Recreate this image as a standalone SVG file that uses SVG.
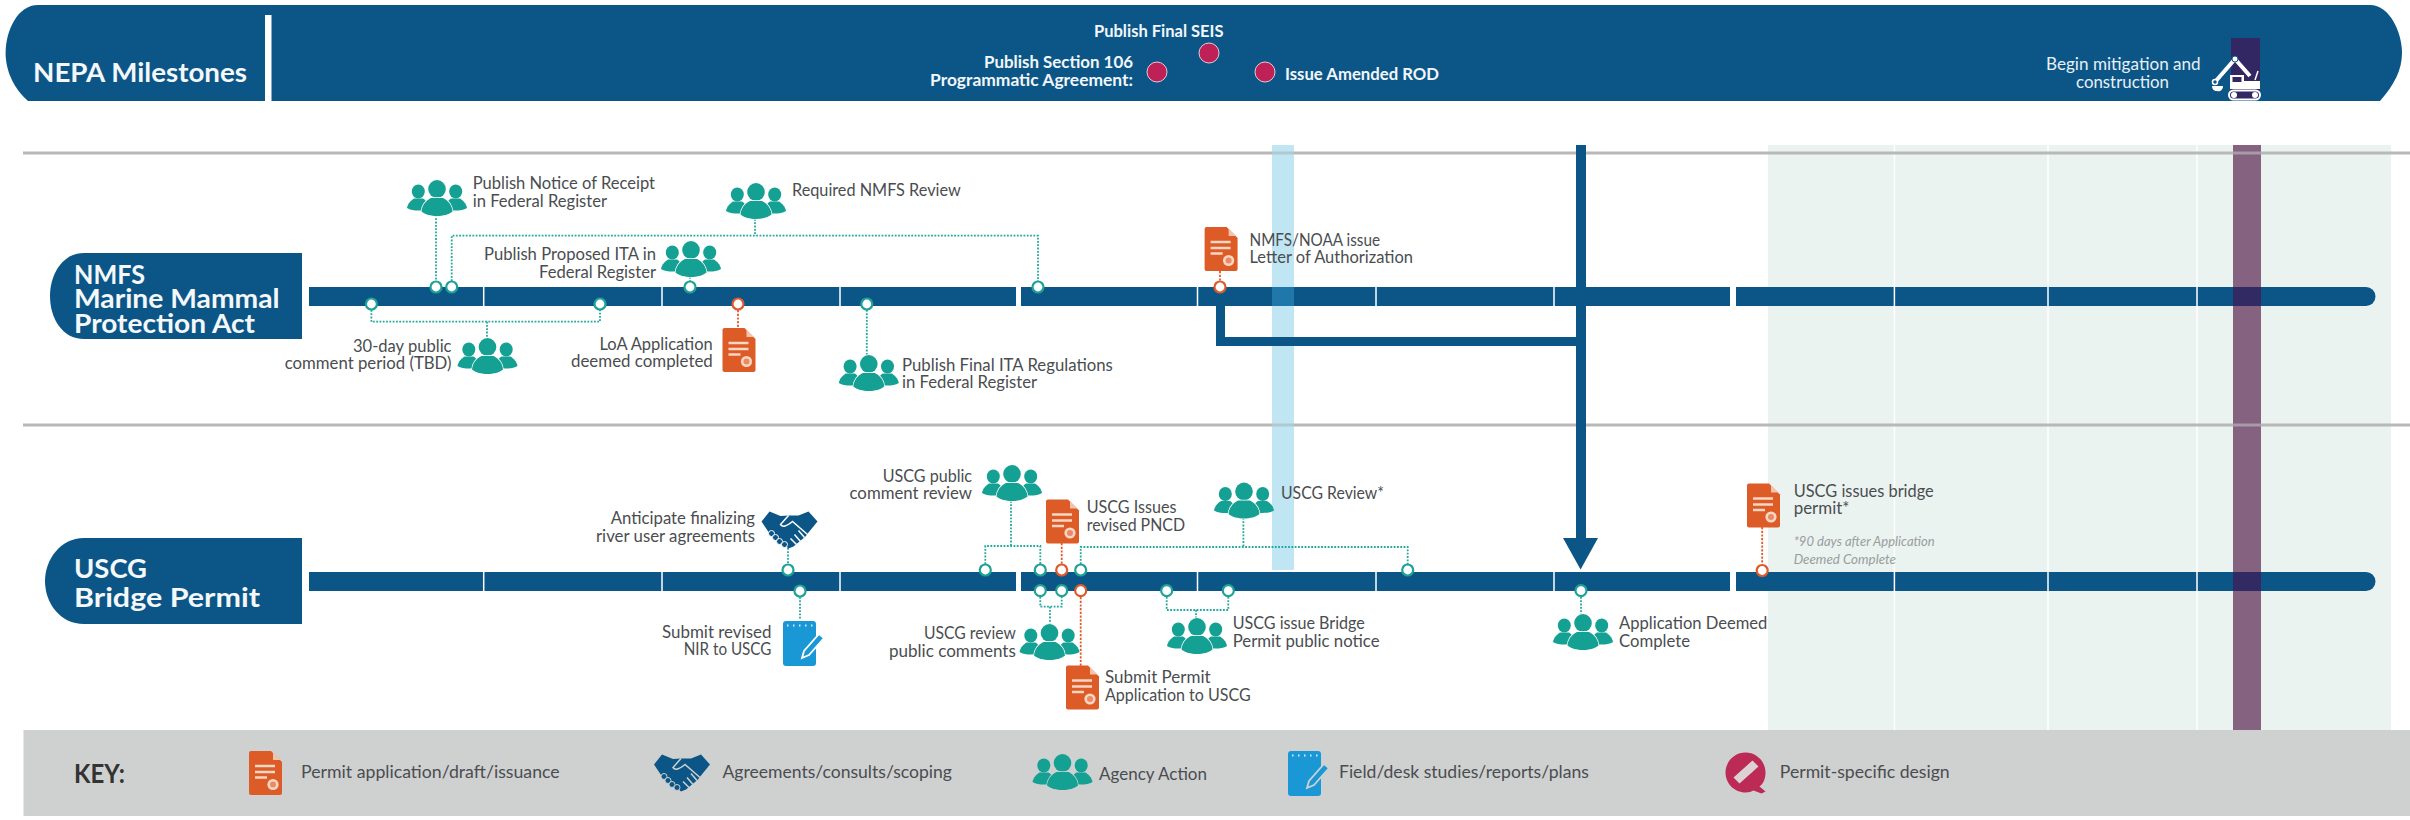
<svg xmlns="http://www.w3.org/2000/svg" width="2410" height="820" viewBox="0 0 2410 820" color="#fff">
<style>
text{font-family:"Lato","Noto Sans","Liberation Sans",sans-serif}
.t{font-size:17.500px;fill:#4a4d50}
.w{font-size:17.500px;fill:#f2f7fa;font-weight:700}
.wr{font-size:17.500px;fill:#e6f0f6}
.h{font-size:27px;fill:#f4f8fb;font-weight:700}
.n{font-size:13.500px;fill:#9a9d9d;font-style:italic}
.k{font-size:27px;fill:#333;font-weight:700}
.bar{fill:#0c5687}
.div{stroke:#fff;stroke-width:1.500;fill:none}
.dt{fill:none;stroke:#22a99d;stroke-width:1.800;stroke-dasharray:1.800 1.500}
.do{fill:none;stroke:#df5a2a;stroke-width:1.800;stroke-dasharray:2.200 1.500}
.nt{fill:#fff;stroke:#1ea295;stroke-width:2.200}
.no{fill:#fff;stroke:#df5a2a;stroke-width:2.200}
.cr{fill:#bd2155;stroke:#e9c6d4;stroke-width:1}
.thick{fill:#0c5687}
</style>
<defs>
<symbol id="people" width="60" height="36" viewBox="0 0 60 36" overflow="visible">
<g fill="#14a093">
<ellipse cx="11.300" cy="11.500" rx="6.500" ry="7"/>
<path d="M0,28C1,23 4,20.500 7,18.500L16,18.500C19,20.500 22,24 22,30L12,30.500C7,30.500 3,30 0,28Z"/>
<ellipse cx="48.700" cy="11.500" rx="6.500" ry="7"/>
<path d="M60,28C59,23 56,20.500 53,18.500L44,18.500C41,20.500 38,24 38,30L48,30.500C53,30.500 57,30 60,28Z"/>
<g stroke="currentColor" stroke-width="1.400" paint-order="stroke">
<ellipse cx="30" cy="9" rx="8.800" ry="9"/>
<path d="M14.500,31.500C15,25 19,20.500 24,18L36,18C41,20.500 45,25 45.500,31.500C42,34.500 36,36 30,36C24,36 18,34.500 14.500,31.500Z"/>
</g>
</g>
</symbol>
<symbol id="doc" width="33" height="44" viewBox="0 0 33 44" overflow="visible">
<path d="M2,0L22,0L33,11L33,42A2,2 0 0 1 31,44L2,44A2,2 0 0 1 0,42L0,2A2,2 0 0 1 2,0Z" fill="#dd5b27"/>
<path d="M24,1.500L24,9L31.500,9Z" fill="#f3c3ab"/>
<path d="M6,15H26M6,21H26M6,26.500H18" stroke="#f8d6c4" stroke-width="2.400" fill="none"/>
<circle cx="24" cy="33.500" r="5.600" fill="#f8d6c4"/>
<circle cx="24" cy="33.500" r="3" fill="#e98a62"/>
</symbol>
<symbol id="shake" width="57" height="37" viewBox="0 0 57 37" overflow="visible">
<path d="M0,10L8,0L19,4.500L27,4L37,4L47,0L56,10L47,21L44,25L32,35L27,37L24,34L20,33L16,29L12,27L8,22Z" fill="#0c5687"/>
<g fill="none" stroke="currentColor" stroke-width="1.500">
<path d="M27,4L19,13C21,16 25,15 31,10L46,23"/>
<path d="M37,19L43,26M33,23L39,30M29,27L35,33"/>
</g>
<g fill="#0c5687" stroke="currentColor" stroke-width="1">
<circle cx="10" cy="22" r="3"/><circle cx="14" cy="26" r="3"/><circle cx="18" cy="30" r="3"/><circle cx="23" cy="33" r="3"/>
</g>
</symbol>
<symbol id="note" width="42" height="46" viewBox="0 0 42 46" overflow="visible">
<rect x="0" y="1" width="33" height="45" rx="3" fill="#1a98d6"/>
<path d="M4,5.500h1.500M10,5.500h1.500M16,5.500h1.500M22,5.500h1.500M28,5.500h1.500" stroke="#d5eaf5" stroke-width="2"/>
<path d="M19,38L21,31L36,14L41,18L26,35Z" fill="#1a98d6" stroke="currentColor" stroke-width="1.800"/>
</symbol>
<symbol id="bubble" width="42" height="42" viewBox="0 0 42 42" overflow="visible">
<path d="M20,0C31,0 40,9 40,20C40,26 38,31 34,34L40,39L36,41L28,38C26,39 23,40 20,40C9,40 0,31 0,20C0,9 9,0 20,0Z" fill="#bc2a56"/>
<path d="M8,25L27,8L33,14L14,31Z" fill="#dcd2d6"/>
</symbol>
</defs>
<rect width="2410" height="820" fill="#fff"/>

<rect x="1768" y="145" width="623" height="585" fill="#eaf3f0"/>
<path class="div" d="M1894.400,145V730M2048,145V730M2197,145V730"/>
<path d="M23,153H2410M23,425H2410" stroke="#b8b8b8" stroke-width="3" fill="none"/>
<rect x="1272" y="145" width="22" height="425" fill="#c0e6f3"/>
<rect x="1272" y="151.500" width="22" height="3" fill="#b0c8d0"/>
<rect x="1272" y="423.500" width="22" height="3" fill="#b0c8d0"/>
<rect x="2233" y="145" width="28" height="586" fill="#85627f"/>
<rect x="2233" y="151.500" width="28" height="3" fill="#a89aa6"/>
<rect x="2233" y="423.500" width="28" height="3" fill="#a89aa6"/>

<g id="header">
<path d="M38,5C18,5 5.600,30 5.600,53C5.600,72 15,90 28,101L2380,101C2394,85 2402,70 2402,53C2402,33 2390,5 2370,5Z" fill="#0c5687"/>
<rect x="265" y="15" width="6.500" height="86" fill="#fff"/>
<text class="h" x="33" y="82" textLength="214" lengthAdjust="spacingAndGlyphs">NEPA Milestones</text>
</g>
<g id="milestone-final-seis">
<circle class="cr" cx="1209" cy="53" r="10"/>
<text class="w" x="1094" y="36.700" textLength="129.500" lengthAdjust="spacingAndGlyphs">Publish Final SEIS</text>
</g>
<g id="milestone-section-106">
<circle class="cr" cx="1157" cy="72" r="10"/>
<text class="w" x="984" y="67.700" textLength="149" lengthAdjust="spacingAndGlyphs">Publish Section 106</text>
<text class="w" x="930" y="85.500" textLength="203" lengthAdjust="spacingAndGlyphs">Programmatic Agreement:</text>
</g>
<g id="milestone-amended-rod">
<circle class="cr" cx="1265" cy="72" r="10"/>
<text class="w" x="1285" y="80" textLength="154" lengthAdjust="spacingAndGlyphs">Issue Amended ROD</text>
</g>
<g id="milestone-construction">
<text class="wr" x="2046" y="69.500" textLength="154.700" lengthAdjust="spacingAndGlyphs">Begin mitigation and</text>
<text class="wr" x="2076" y="87.700" textLength="93" lengthAdjust="spacingAndGlyphs">construction</text>
<rect x="2231" y="38" width="29" height="60" fill="#332763"/>
<path d="M2250,76L2235,59L2215,82" fill="none" stroke="#fff" stroke-width="4"/>
<circle cx="2235" cy="59" r="3" fill="#fff" stroke="#0c5687"/>
<circle cx="2215" cy="82" r="2.500" fill="#0c5687" stroke="#fff" stroke-width="1.500"/>
<path d="M2212,86L2223,86C2223,90 2220,92 2217,91C2214,91 2212,89 2212,86Z" fill="#fff"/>
<path d="M2230,75H2244V81H2260V89H2230Z" fill="#fff"/>
<rect x="2232.500" y="77" width="9" height="5" fill="#332763"/>
<path d="M2255,80L2258,71" stroke="#fff" stroke-width="1.500"/>
<rect x="2229" y="90.500" width="31" height="9" rx="4.500" fill="#332763" stroke="#fff" stroke-width="2"/>
<circle cx="2234" cy="95" r="3" fill="#fff"/><circle cx="2255" cy="95" r="3" fill="#fff"/>
</g>

<g id="nmfs-label">
<path d="M302,253L84,253C62,253 50,275 50,296C50,318 62,339 84,339L302,339Z" fill="#0c5687"/>
<text class="h"><tspan x="74" y="284" textLength="71" lengthAdjust="spacingAndGlyphs">NMFS</tspan><tspan x="74" y="308.300" textLength="205.600" lengthAdjust="spacingAndGlyphs">Marine Mammal</tspan><tspan x="74" y="332.700" textLength="181" lengthAdjust="spacingAndGlyphs">Protection Act</tspan></text>
</g>
<g id="uscg-label">
<path d="M302,538L84,538C60,538 45,560 45,581C45,603 60,624 84,624L302,624Z" fill="#0c5687"/>
<text class="h"><tspan x="74" y="578" textLength="73" lengthAdjust="spacingAndGlyphs">USCG</tspan><tspan x="74" y="607" textLength="186" lengthAdjust="spacingAndGlyphs">Bridge Permit</tspan></text>
</g>

<g id="timeline-nmfs">
<rect class="bar" x="309" y="287" width="707" height="19"/>
<rect class="bar" x="1021" y="287" width="709" height="19"/>
<path class="bar" d="M1736,287H2366A9.500,9.500 0 0 1 2366,306H1736Z"/>
<rect x="1272" y="287" width="22" height="19" fill="#2077a9"/>
<rect x="2233" y="287" width="28" height="19" fill="#312a63"/>
<path class="div" d="M483.700,287V306M662,287V306M840,287V306M1197.500,287V306M1376,287V306M1554,287V306M1894.400,287V306M2048,287V306M2197,287V306"/>
</g>
<g id="timeline-uscg">
<rect class="bar" x="309" y="572" width="707" height="19"/>
<rect class="bar" x="1021" y="572" width="709" height="19"/>
<path class="bar" d="M1736,572H2366A9.500,9.500 0 0 1 2366,591H1736Z"/>
<rect x="2233" y="572" width="28" height="19" fill="#312a63"/>
<path class="div" d="M483.700,572V591M662,572V591M840,572V591M1197.500,572V591M1376,572V591M1554,572V591M1894.400,572V591M2048,572V591M2197,572V591"/>
</g>

<g id="connectors">
<rect class="thick" x="1576" y="145" width="10" height="395"/>
<rect class="thick" x="1216" y="300" width="9" height="46"/>
<rect class="thick" x="1216" y="337" width="360" height="9"/>
<path class="thick" d="M1563,538H1598L1580.600,569.500Z"/>
<path class="dt" d="M436,215V281"/>
<path class="dt" d="M451.700,281V235.700H1038V281"/>
<path class="dt" d="M755,219V235.700"/>
<path class="dt" d="M690,277V281"/>
<path class="dt" d="M371.400,310V321.700H600V310"/>
<path class="dt" d="M487,321.700V338"/>
<path class="do" d="M738,310V328"/>
<path class="dt" d="M866.800,310V355"/>
<path class="do" d="M1220,271V281"/>
<path class="dt" d="M788,548V564"/>
<path class="dt" d="M800,597V620"/>
<path class="dt" d="M1011,501V546"/>
<path class="dt" d="M985.300,564V546H1040.300V564"/>
<path class="do" d="M1061.700,543V564"/>
<path class="dt" d="M1080.700,564V547H1407.700V564"/>
<path class="dt" d="M1243.400,518V547"/>
<path class="dt" d="M1040.300,597V606.700H1061.700V597"/>
<path class="dt" d="M1050,606.700V624"/>
<path class="do" d="M1080.700,597V666"/>
<path class="dt" d="M1166.700,597V610H1228.300V597"/>
<path class="dt" d="M1196,610V619"/>
<path class="dt" d="M1581,597V614"/>
<path class="do" d="M1762.200,527V564"/>
</g>

<g id="n-publish-notice">
<use href="#people" x="407" y="180"/>
<circle class="nt" cx="436" cy="287" r="5.500"/>
<text class="t" x="472.700" y="189.300" textLength="182.300" lengthAdjust="spacingAndGlyphs">Publish Notice of Receipt</text>
<text class="t" x="472.700" y="207.300" textLength="134.300" lengthAdjust="spacingAndGlyphs">in Federal Register</text>
</g>
<g id="n-required-review">
<use href="#people" x="726" y="183"/>
<circle class="nt" cx="451.700" cy="287" r="5.500"/>
<circle class="nt" cx="1038" cy="287" r="5.500"/>
<text class="t" x="792" y="196" textLength="168.700" lengthAdjust="spacingAndGlyphs">Required NMFS Review</text>
</g>
<g id="n-publish-proposed">
<use href="#people" x="661" y="241"/>
<circle class="nt" cx="690" cy="287" r="5.500"/>
<text class="t" x="484" y="260" textLength="172" lengthAdjust="spacingAndGlyphs">Publish Proposed ITA in</text>
<text class="t" x="539" y="277.700" textLength="117" lengthAdjust="spacingAndGlyphs">Federal Register</text>
</g>
<g id="n-30-day">
<use href="#people" x="457.500" y="338"/>
<circle class="nt" cx="371.400" cy="304" r="5.500"/>
<circle class="nt" cx="600" cy="304" r="5.500"/>
<text class="t" x="353" y="351.700" textLength="98.500" lengthAdjust="spacingAndGlyphs">30-day public</text>
<text class="t" x="284.700" y="369" textLength="166.800" lengthAdjust="spacingAndGlyphs">comment period (TBD)</text>
</g>
<g id="n-loa-application">
<use href="#doc" x="722.500" y="328"/>
<circle class="no" cx="738" cy="304" r="5.500"/>
<text class="t" x="599.500" y="350" textLength="113.300" lengthAdjust="spacingAndGlyphs">LoA Application</text>
<text class="t" x="571" y="367.300" textLength="141.800" lengthAdjust="spacingAndGlyphs">deemed completed</text>
</g>
<g id="n-final-ita">
<use href="#people" x="838.800" y="355"/>
<circle class="nt" cx="866.800" cy="304" r="5.500"/>
<text class="t" x="902" y="370.700" textLength="210.800" lengthAdjust="spacingAndGlyphs">Publish Final ITA Regulations</text>
<text class="t" x="902" y="388.300" textLength="135" lengthAdjust="spacingAndGlyphs">in Federal Register</text>
</g>
<g id="n-letter-authorization">
<use href="#doc" x="1204.600" y="227"/>
<circle class="no" cx="1220" cy="287" r="5.500"/>
<text class="t" x="1249.500" y="245.700" textLength="130.500" lengthAdjust="spacingAndGlyphs">NMFS/NOAA issue</text>
<text class="t" x="1249.500" y="263.300" textLength="163.500" lengthAdjust="spacingAndGlyphs">Letter of Authorization</text>
</g>

<g id="n-river-agreements">
<use href="#shake" x="761.500" y="511.500"/>
<circle class="nt" cx="788" cy="570" r="5.500"/>
<text class="t" x="610.700" y="524.300" textLength="144.300" lengthAdjust="spacingAndGlyphs">Anticipate finalizing</text>
<text class="t" x="596" y="542" textLength="159" lengthAdjust="spacingAndGlyphs">river user agreements</text>
</g>
<g id="n-revised-nir">
<use href="#note" x="783" y="620"/>
<circle class="nt" cx="800" cy="591" r="5.500"/>
<text class="t" x="662" y="637.700" textLength="109.400" lengthAdjust="spacingAndGlyphs">Submit revised</text>
<text class="t" x="683.700" y="655.300" textLength="87.700" lengthAdjust="spacingAndGlyphs">NIR to USCG</text>
</g>
<g id="n-uscg-comment-review">
<use href="#people" x="982" y="465"/>
<circle class="nt" cx="985.300" cy="570" r="5.500"/>
<circle class="nt" cx="1040.300" cy="570" r="5.500"/>
<text class="t" x="882.700" y="481.700" textLength="89.300" lengthAdjust="spacingAndGlyphs">USCG public</text>
<text class="t" x="849.500" y="499.300" textLength="122.500" lengthAdjust="spacingAndGlyphs">comment review</text>
</g>
<g id="n-revised-pncd">
<use href="#doc" x="1046" y="499.500"/>
<circle class="no" cx="1061.700" cy="570" r="5.500"/>
<text class="t" x="1086.700" y="513.300" textLength="89.800" lengthAdjust="spacingAndGlyphs">USCG Issues</text>
<text class="t" x="1086.700" y="530.700" textLength="98.300" lengthAdjust="spacingAndGlyphs">revised PNCD</text>
</g>
<g id="n-uscg-review">
<use href="#people" x="1214" y="482.500"/>
<circle class="nt" cx="1080.700" cy="570" r="5.500"/>
<circle class="nt" cx="1407.700" cy="570" r="5.500"/>
<text class="t" x="1281" y="499.300" textLength="103" lengthAdjust="spacingAndGlyphs">USCG Review*</text>
</g>
<g id="n-review-comments">
<use href="#people" x="1019.500" y="624"/>
<circle class="nt" cx="1040.300" cy="590.700" r="5.500"/>
<circle class="nt" cx="1061.700" cy="590.700" r="5.500"/>
<text class="t" x="924" y="639.300" textLength="91.800" lengthAdjust="spacingAndGlyphs">USCG review</text>
<text class="t" x="889" y="657" textLength="126.800" lengthAdjust="spacingAndGlyphs">public comments</text>
</g>
<g id="n-submit-application">
<use href="#doc" x="1066" y="665.500"/>
<circle class="no" cx="1080.700" cy="590.700" r="5.500"/>
<text class="t" x="1105" y="683.300" textLength="105.700" lengthAdjust="spacingAndGlyphs">Submit Permit</text>
<text class="t" x="1105" y="701.300" textLength="145.700" lengthAdjust="spacingAndGlyphs">Application to USCG</text>
</g>
<g id="n-bridge-notice">
<use href="#people" x="1167" y="618"/>
<circle class="nt" cx="1166.700" cy="590.700" r="5.500"/>
<circle class="nt" cx="1228.300" cy="590.700" r="5.500"/>
<text class="t" x="1232.700" y="629" textLength="132.100" lengthAdjust="spacingAndGlyphs">USCG issue Bridge</text>
<text class="t" x="1232.700" y="646.700" textLength="146.900" lengthAdjust="spacingAndGlyphs">Permit public notice</text>
</g>
<g id="n-deemed-complete">
<use href="#people" x="1553" y="614"/>
<circle class="nt" cx="1581" cy="590.700" r="5.500"/>
<text class="t" x="1619" y="629" textLength="148.400" lengthAdjust="spacingAndGlyphs">Application Deemed</text>
<text class="t" x="1619" y="646.700" textLength="71" lengthAdjust="spacingAndGlyphs">Complete</text>
</g>
<g id="n-bridge-permit">
<use href="#doc" x="1747" y="483.500"/>
<circle class="no" cx="1762.200" cy="570.500" r="5.500"/>
<text class="t" x="1793.700" y="496.700" textLength="140" lengthAdjust="spacingAndGlyphs">USCG issues bridge</text>
<text class="t" x="1793.700" y="514" textLength="55.800" lengthAdjust="spacingAndGlyphs">permit*</text>
<text class="n" x="1793.700" y="546" textLength="141" lengthAdjust="spacingAndGlyphs">*90 days after Application</text>
<text class="n" x="1793.700" y="563.700" textLength="102.300" lengthAdjust="spacingAndGlyphs">Deemed Complete</text>
</g>

<g id="key" color="#cfd0d0">
<rect x="23.500" y="730" width="2386.500" height="86" fill="#cfd0d0"/>
<text class="k" x="74" y="782.700" textLength="51" lengthAdjust="spacingAndGlyphs">KEY:</text>
<use href="#doc" x="249" y="751"/>
<text class="t" x="301" y="777.700" textLength="258.700" lengthAdjust="spacingAndGlyphs">Permit application/draft/issuance</text>
<use href="#shake" x="654" y="754.500"/>
<text class="t" x="722.400" y="777.700" textLength="229.600" lengthAdjust="spacingAndGlyphs">Agreements/consults/scoping</text>
<use href="#people" x="1032.500" y="754"/>
<text class="t" x="1099" y="780" textLength="108" lengthAdjust="spacingAndGlyphs">Agency Action</text>
<use href="#note" x="1288" y="750"/>
<text class="t" x="1339" y="777.700" textLength="249.800" lengthAdjust="spacingAndGlyphs">Field/desk studies/reports/plans</text>
<use href="#bubble" x="1725.500" y="752.500"/>
<text class="t" x="1779.800" y="777.700" textLength="169.900" lengthAdjust="spacingAndGlyphs">Permit-specific design</text>
</g>
</svg>
